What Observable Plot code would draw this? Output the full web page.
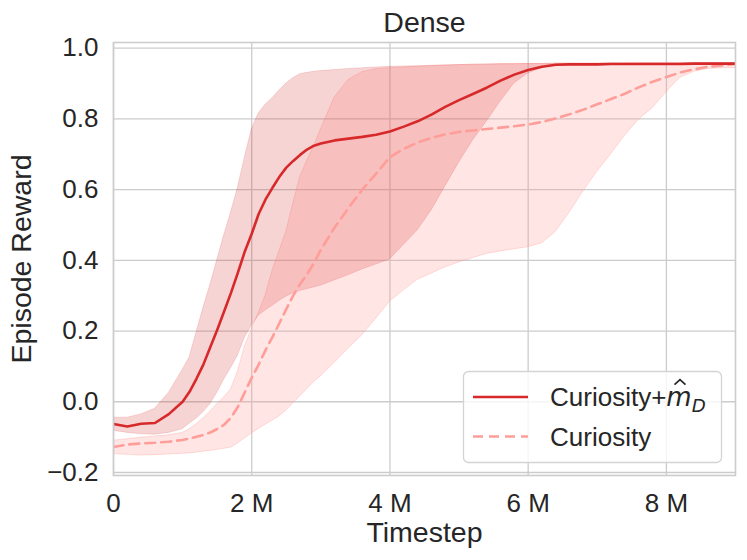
<!DOCTYPE html>
<html>
<head>
<meta charset="utf-8">
<script src="https://cdn.jsdelivr.net/npm/d3@7"></script>
<script src="https://cdn.jsdelivr.net/npm/@observablehq/plot@0.6"></script>
<style>
  html, body { margin: 0; padding: 0; background: #fff; }
</style>
</head>
<body>
<div id="chart"></div>
<script>
// Timestep in millions
const timesteps = [0,0.2,0.4,0.6,0.8,1.0,
  1.1,1.2,1.3,1.4,1.5,1.6,1.7,1.8,1.9,2.0,2.1,2.2,2.3,2.4,2.5,2.6,2.7,2.8,2.9,3.0,
  3.2,3.4,3.6,3.8,4.0,4.2,4.4,4.6,4.8,5.0,5.2,5.4,5.6,5.8,6.0,6.2,6.4,6.6,6.8,7.0,
  7.2,7.4,7.6,7.8,8.0,8.2,8.4,8.6,8.8,9.0];

// Curiosity + m_D (solid)
const mdMean = [-0.063,-0.070,-0.062,-0.060,-0.035,0.000,
  0.028,0.065,0.105,0.154,0.203,0.255,0.308,0.365,0.425,0.475,0.531,0.572,0.605,0.636,0.662,0.681,0.698,0.713,0.724,0.730,
  0.739,0.744,0.749,0.755,0.764,0.778,0.793,0.812,0.834,0.853,0.870,0.888,0.908,0.925,0.938,0.947,0.953,0.954,0.954,0.954,
  0.955,0.955,0.955,0.955,0.955,0.955,0.956,0.956,0.956,0.956];
const mdUpper = [-0.045,-0.045,-0.036,-0.020,0.025,0.090,
  0.125,0.195,0.265,0.330,0.400,0.470,0.535,0.605,0.690,0.770,0.815,0.840,0.858,0.880,0.900,0.915,0.926,0.930,0.933,0.935,
  0.938,0.941,0.943,0.945,0.947,0.948,0.949,0.950,0.951,0.952,0.953,0.953,0.954,0.954,0.955,0.955,0.956,0.956,0.956,0.956,
  0.957,0.957,0.957,0.957,0.957,0.957,0.957,0.957,0.957,0.957];
const mdLower = [-0.082,-0.088,-0.092,-0.093,-0.088,-0.078,
  -0.062,-0.048,-0.030,-0.007,0.025,0.062,0.095,0.130,0.180,0.215,0.243,0.258,0.271,0.285,0.297,0.306,0.313,0.318,0.323,0.328,
  0.343,0.358,0.374,0.388,0.402,0.443,0.484,0.540,0.608,0.676,0.738,0.792,0.848,0.900,0.928,0.944,0.951,0.953,0.954,0.954,
  0.954,0.954,0.954,0.955,0.955,0.955,0.955,0.955,0.955,0.955];

// Curiosity (dashed)
const curMean = [-0.128,-0.121,-0.118,-0.116,-0.113,-0.108,
  -0.104,-0.099,-0.094,-0.087,-0.077,-0.065,-0.045,-0.014,0.027,0.068,0.105,0.146,0.183,0.222,0.262,0.300,0.333,0.360,0.392,0.430,
  0.493,0.548,0.600,0.645,0.692,0.715,0.733,0.746,0.756,0.763,0.767,0.771,0.775,0.779,0.784,0.791,0.801,0.813,0.826,0.841,
  0.856,0.871,0.889,0.905,0.918,0.931,0.940,0.947,0.951,0.955];
const curUpper = [-0.110,-0.106,-0.102,-0.098,-0.095,-0.088,
  -0.078,-0.064,-0.047,-0.028,-0.007,0.012,0.035,0.085,0.155,0.205,0.250,0.300,0.370,0.425,0.480,0.560,0.635,0.680,0.722,0.770,
  0.860,0.910,0.932,0.940,0.943,0.945,0.947,0.949,0.951,0.952,0.953,0.954,0.955,0.955,0.955,0.955,0.956,0.956,0.956,0.956,
  0.956,0.956,0.957,0.957,0.957,0.957,0.957,0.957,0.957,0.957];
const curLower = [-0.148,-0.150,-0.152,-0.151,-0.149,-0.147,
  -0.146,-0.144,-0.141,-0.139,-0.136,-0.133,-0.130,-0.118,-0.104,-0.090,-0.077,-0.065,-0.054,-0.042,-0.025,-0.005,0.015,0.035,0.055,0.072,
  0.110,0.150,0.188,0.235,0.283,0.315,0.345,0.362,0.380,0.394,0.406,0.418,0.425,0.431,0.437,0.448,0.480,0.535,0.595,0.650,
  0.700,0.752,0.797,0.830,0.875,0.916,0.933,0.941,0.943,0.944];

const xTicks = [0, 2, 4, 6, 8];
const yTicks = [-0.2, 0.0, 0.2, 0.4, 0.6, 0.8, 1.0];
const titleText = "Dense";
const xLabel = "Timestep";
const yLabel = "Episode Reward";
const seriesLabels = ["Curiosity+", "Curiosity"];

const rows = timesteps.map((t, i) => ({
  t,
  mdMean: mdMean[i], mdUpper: mdUpper[i], mdLower: mdLower[i],
  curMean: curMean[i], curUpper: curUpper[i], curLower: curLower[i]
}));

const FONT = "'Liberation Sans', Arial, Helvetica, sans-serif";
const RED = "#d7282a";
const PINK = "#ff9d99";
const GRID = "#cccccc";
const INK = "#262626";
const FS = 26;     // tick & legend
const FSL = 28.5;  // title & axis labels

const plot = Plot.plot({
  width: 747,
  height: 560,
  marginLeft: 113,
  marginRight: 12,
  marginTop: 42,
  marginBottom: 85,
  style: { fontFamily: FONT, fontSize: FS + "px", color: INK, background: "#fff", overflow: "visible" },
  x: { domain: [0, 9.0], label: null },
  y: { domain: [-0.2085, 1.0158], label: null },
  marks: [
    Plot.gridX(xTicks, { stroke: GRID, strokeOpacity: 1, strokeWidth: 1.3 }),
    Plot.gridY(yTicks, { stroke: GRID, strokeOpacity: 1, strokeWidth: 1.3 }),
    Plot.areaY(rows, { x: "t", y1: "curLower", y2: "curUpper", fill: PINK, fillOpacity: 0.25,
      stroke: PINK, strokeOpacity: 0.35, strokeWidth: 1, clip: true }),
    Plot.areaY(rows, { x: "t", y1: "mdLower", y2: "mdUpper", fill: RED, fillOpacity: 0.2,
      stroke: RED, strokeOpacity: 0.15, strokeWidth: 1, clip: true }),
    Plot.lineY(rows, { x: "t", y: "curMean", stroke: PINK, strokeWidth: 2.6, strokeDasharray: "10,6", clip: true }),
    Plot.lineY(rows, { x: "t", y: "mdMean", stroke: RED, strokeWidth: 2.6, clip: true }),
    Plot.frame({ stroke: GRID, strokeWidth: 1.6 }),
    Plot.axisX(xTicks, { tickSize: 0, tickPadding: 18, fontSize: FS, label: null,
      tickFormat: d => d === 0 ? "0" : `${d} M` }),
    Plot.axisY(yTicks, { tickSize: 0, tickPadding: 15, fontSize: FS, label: null,
      tickFormat: d3.format(".1f") }),
    Plot.text([titleText], { text: d => d, frameAnchor: "top", lineAnchor: "middle", textAnchor: "middle",
      dy: -20, fontSize: FSL }),
    Plot.text([xLabel], { text: d => d, frameAnchor: "bottom", lineAnchor: "middle", textAnchor: "middle",
      dy: 57.5, fontSize: FSL }),
    Plot.text([yLabel], { text: d => d, frameAnchor: "left", lineAnchor: "middle", textAnchor: "middle",
      rotate: -90, dx: -92, fontSize: FSL })
  ]
});

document.getElementById("chart").appendChild(plot);

// Legend
const svg = d3.select(plot);
const lg = svg.append("g").attr("font-family", FONT).attr("font-size", FS).attr("fill", INK)
  .attr("text-anchor", "start");
lg.append("rect")
  .attr("x", 463.5).attr("y", 371.5).attr("width", 258).attr("height", 91).attr("rx", 5)
  .attr("fill", "#fff").attr("fill-opacity", 0.8)
  .attr("stroke", "#d4d4d4").attr("stroke-width", 1.3);
lg.append("line").attr("x1", 473).attr("x2", 528).attr("y1", 397).attr("y2", 397)
  .attr("stroke", RED).attr("stroke-width", 2.6);
lg.append("line").attr("x1", 473).attr("x2", 528).attr("y1", 436.5).attr("y2", 436.5)
  .attr("stroke", PINK).attr("stroke-width", 2.6).attr("stroke-dasharray", "10,6");

const t1 = lg.append("text").attr("x", 550).attr("y", 397).attr("dy", "0.35em").attr("text-anchor", "start");
t1.append("tspan").text(seriesLabels[0]);
const mSpan = t1.append("tspan").attr("font-family", "'DejaVu Sans'").attr("font-style", "italic").text("m");
t1.append("tspan").attr("font-family", "'DejaVu Sans'").attr("font-style", "italic")
  .attr("font-size", FS * 0.7).attr("dy", "0.3em").text("D");
lg.append("text").attr("x", 550).attr("y", 436.5).attr("dy", "0.35em").attr("text-anchor", "start")
  .text(seriesLabels[1]);

// hat over the m, drawn as a small chevron path
try {
  const node = mSpan.node();
  const start = node.getStartPositionOfChar(0);
  const ext = node.getExtentOfChar(0);
  const cx = ext.x + ext.width / 2 + 1;
  const base = start.y;
  lg.append("path")
    .attr("d", `M${cx - 5.5},${base - 21.5}L${cx},${base - 26.5}L${cx + 5.5},${base - 21.5}`)
    .attr("fill", "none").attr("stroke", INK).attr("stroke-width", 1.7)
    .attr("stroke-linejoin", "miter");
} catch (e) {}
</script>
</body>
</html>
